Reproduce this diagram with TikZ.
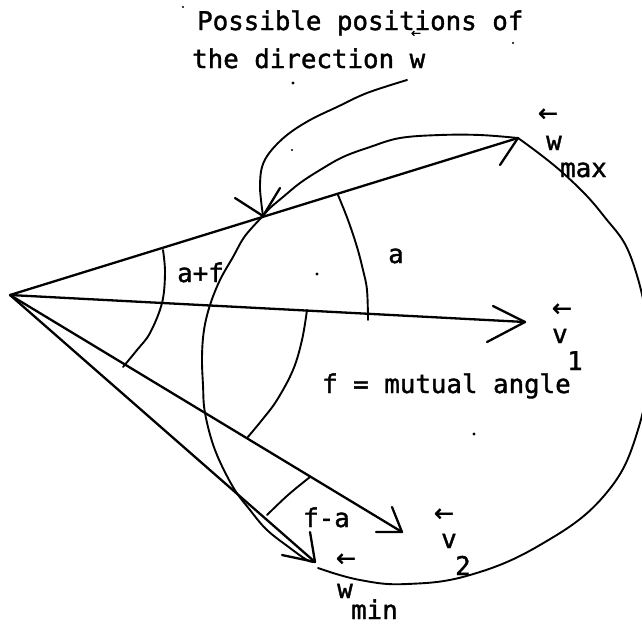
\documentclass[tikz,border=0pt]{standalone}
\usepackage{fontspec}
\newfontfamily\lblfont{DejaVu Sans Mono}[FakeBold=1.4]
\newfontfamily\arrfont{DejaVu Sans}[FakeBold=1.5]
\begin{document}
\begin{tikzpicture}[x=1pt,y=-1pt,
  vec/.style={line width=2.3pt, line cap=round, line join=round},
  anglearc/.style={line width=1.9pt, line cap=round},
  loop/.style={line width=1.9pt, line cap=round},
  lbl/.style={font=\lblfont\fontsize{25.8}{30}\selectfont, inner sep=0pt, anchor=base west},
  tinyarr/.style={font=\arrfont\fontsize{24}{26}\selectfont, inner sep=0pt},
  speck/.style={fill=black, draw=none}]
\useasboundingbox (0,0) rectangle (642,625);
\clip (0,0) rectangle (642,625);

% origin and vector tips
\coordinate (O) at (10,295);
\coordinate (wmax) at (518,138);
\coordinate (v1) at (525,322);
\coordinate (v2) at (402,532);
\coordinate (wmin) at (315,562);
\coordinate (X) at (263,216);

% arrowhead branch ends
\coordinate (wmaxB) at (500,165);
\coordinate (v1A) at (493,306);
\coordinate (v1B) at (487,342);
\coordinate (v2A) at (392,507);
\coordinate (v2B) at (376,532);
\coordinate (wminA) at (310,532);
\coordinate (wminB) at (282,555);
\coordinate (XA) at (235,198);
\coordinate (XB) at (280,188);

% vectors
\draw[vec] (O) -- (wmax);
\draw[vec] (wmaxB) -- (wmax);
\draw[vec] (O) -- (v1);
\draw[vec] (v1A) -- (v1) -- (v1B);
\draw[vec] (O) -- (v2);
\draw[vec] (v2A) -- (v2) -- (v2B);
\draw[vec] (O) -- (wmin);
\draw[vec] (wminA) -- (wmin) -- (wminB);

% locus loop
\draw[loop] plot[smooth, tension=0.7] coordinates {(318,568) (360,580) (407,584) (470,575) (540,545) (603,497) (637,433) (649,350) (633,263) (603,215) (563,173) (518,138)};
\draw[loop] plot[smooth, tension=0.6] coordinates {(518,138) (480,135) (440,135) (400,138) (370,147) (343,157) (320,170) (300,183) (283,197) (270,208) (263,216)};
\draw[loop] plot[smooth, tension=0.6] coordinates {(263,216) (245,236) (233,257) (220,280) (210,305) (204,330) (202,357) (203,385) (205,413) (215,450) (233,487) (250,510) (267,530) (290,548) (307,560) (315,562)};

% pointer from text
\draw[loop] plot[smooth, tension=0.6] coordinates {(407,80) (367,93) (337,107) (310,120) (287,135) (270,152) (262,167) (260,185) (261,200) (263,216)};
\draw[vec] (XA) -- (X) -- (XB);

% angle arcs
\draw[anglearc] plot[smooth, tension=0.6] coordinates {(338,195) (348,220) (357,247) (363,270) (367,290) (368,320)};
\draw[anglearc] plot[smooth, tension=0.6] coordinates {(163,250) (165,273) (162,303) (150,333) (137,350) (123,367)};
\draw[anglearc] plot[smooth, tension=0.6] coordinates {(307,310) (302,340) (293,370) (277,400) (262,420) (247,438)};
\draw[anglearc] plot[smooth, tension=0.6] coordinates {(310,477) (288,495) (267,515)};

% texts
\node[lbl] (t1) at (197,30) {Possible positions of};
\node[tinyarr] (t1a) at (416,34) {\fontsize{12}{13}\selectfont ←};
\node[lbl] (t2) at (192,68) {the direction w};
\node[lbl] (af) at (177,282) {a+f};
\node[lbl] (a) at (388,263) {a};
\node[lbl] (fm) at (322,393) {f = mutual angle};
\node[lbl] (fa) at (303,527) {f-a};

\node[tinyarr] (wmaxarr) at (548,115) {←};
\node[lbl] (wmaxw) at (546,150) {w};
\node[lbl] (wmaxs) at (560,177) {max};

\node[tinyarr] (v1arr) at (562,310) {←};
\node[lbl] (v1v) at (552,343) {v};
\node[lbl] (v1s) at (567,370) {1};

\node[tinyarr] (v2arr) at (444,515) {←};
\node[lbl] (v2v) at (441,548) {v};
\node[lbl] (v2s) at (455,575) {2};

\node[tinyarr] (wminarr) at (346,560) {←};
\node[lbl] (wminw) at (337,598) {w};
\node[lbl] (wmins) at (351,619) {min};

% specks
\fill[speck] (317,274) circle (1.6);
\fill[speck] (292,150) circle (1.2);
\fill[speck] (293,83) circle (1.6);
\fill[speck] (183,7) circle (1.2);
\fill[speck] (513,43) circle (1.2);
\fill[speck] (474,434) circle (1.6);
\end{tikzpicture}
\end{document}
